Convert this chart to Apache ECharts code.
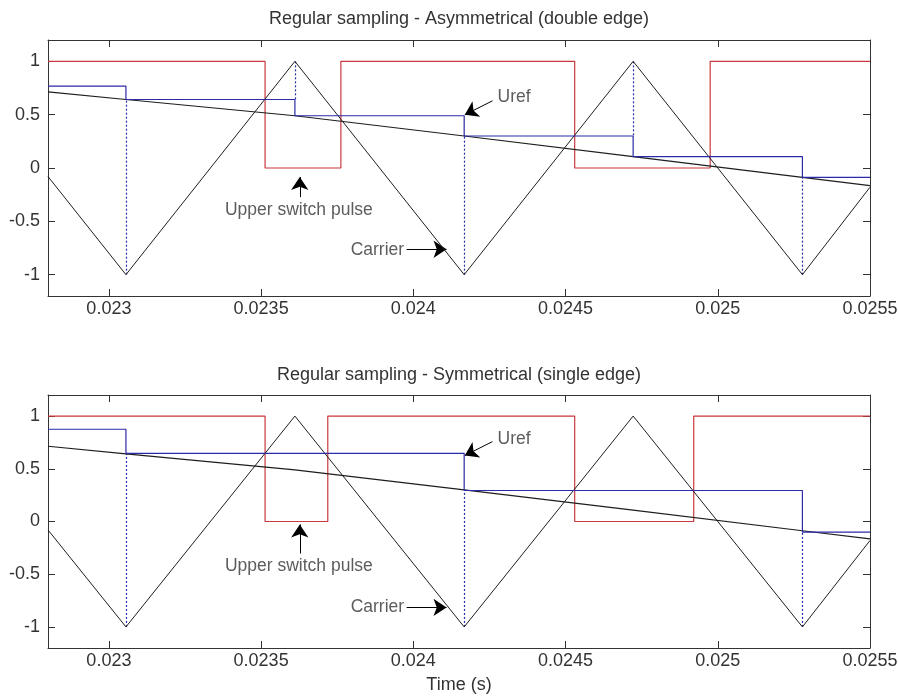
<!DOCTYPE html>
<html>
<head>
<meta charset="utf-8">
<script src="https://cdn.jsdelivr.net/npm/echarts@6/dist/echarts.min.js"></script>
<style>html,body{margin:0;padding:0;background:#fff}#c{width:898px;height:697px}</style>
</head>
<body>
<div id="c"></div>
<script>
// ---------- data ----------
var xTicks = [0.023, 0.0235, 0.024, 0.0245, 0.025, 0.0255];
var yTicks = [-1, -0.5, 0, 0.5, 1];
var titles = ['Regular sampling - Asymmetrical (double edge)', 'Regular sampling - Symmetrical (single edge)'];

// carrier triangle vertices (same in both plots)
var carrier = [[0.0228,-0.08],[0.023056,-1],[0.023611,1],[0.024167,-1],[0.024722,1],[0.025278,-1],[0.0255,-0.18]];
// reference (modulating) wave, read points
var reference = [[0.0228,0.714],[0.023056,0.642],[0.023611,0.49],[0.024167,0.30],[0.024722,0.107],[0.025278,-0.088],[0.0255,-0.165]];

// top: asymmetrical sampled reference (held values)
var urefAsym = [[0.0228,0.767],[0.023056,0.642],[0.023611,0.49],[0.024167,0.30],[0.024722,0.107],[0.025278,-0.088],[0.0255,-0.088]];
var pulseAsym = [[0.0228,1],[0.023513,0],[0.023762,1],[0.02453,0],[0.024975,1],[0.0255,1]];
var dotsAsym = [
  [[0.023056,-1],[0.023056,0.642]],
  [[0.023611,1],[0.023611,0.642]],
  [[0.024167,-1],[0.024167,0.30]],
  [[0.024722,1],[0.024722,0.30]],
  [[0.025278,-1],[0.025278,-0.088]]
];

// bottom: symmetrical sampled reference
var urefSym = [[0.0228,0.875],[0.023056,0.647],[0.024167,0.294],[0.025278,-0.10],[0.0255,-0.10]];
var pulseSym = [[0.0228,1],[0.023513,0],[0.023719,1],[0.02453,0],[0.024921,1],[0.0255,1]];
var dotsSym = [
  [[0.023056,-1],[0.023056,0.647]],
  [[0.024167,-1],[0.024167,0.294]],
  [[0.025278,-1],[0.025278,-0.10]]
];

// annotations (text centre, arrow start -> tip), data coordinates
var notesTop = [
  {text:'Uref', at:[0.024331,0.668], from:[0.02426,0.63], to:[0.024169,0.499]},
  {text:'Upper switch pulse', at:[0.023624,-0.395], from:[0.023627,-0.273], to:[0.023627,-0.085]},
  {text:'Carrier', at:[0.023882,-0.771], from:[0.023978,-0.762], to:[0.024109,-0.762]}
];
var notesBot = [
  {text:'Uref', at:[0.024331,0.784], from:[0.02426,0.758], to:[0.024169,0.626]},
  {text:'Upper switch pulse', at:[0.023624,-0.424], from:[0.023627,-0.303], to:[0.023627,-0.028]},
  {text:'Carrier', at:[0.023882,-0.812], from:[0.023978,-0.815], to:[0.024109,-0.815]}
];

// ---------- styling ----------
var FONT = '"Liberation Sans", Arial, sans-serif';
var TXT = '#333333';
var AX = '#333333';
var RED = '#c8383c';
var BLUE = '#2a2aa6';
var BLACK = '#1e1e1e';
var FS = 18;

function xAxisPair(gi) {
  var base = {type:'value', gridIndex:gi, min:0.0228, max:0.0255, splitLine:{show:false},
    axisLine:{show:true, onZero:false, lineStyle:{color:AX, width:1}},
    axisTick:{show:true, inside:true, length:7, customValues:xTicks, lineStyle:{color:AX}}};
  var bottom = Object.assign({}, base, {position:'bottom',
    axisLabel:{show:true, customValues:xTicks, margin:4, color:TXT, fontSize:FS, fontFamily:FONT,
      hideOverlap:false, formatter:function(v){return String(v);}}});
  var top = Object.assign({}, base, {position:'top', axisLabel:{show:false}});
  return [bottom, top];
}
function yAxisPair(gi) {
  var base = {type:'value', gridIndex:gi, min:-1.2, max:1.2, splitLine:{show:false},
    axisLine:{show:true, onZero:false, lineStyle:{color:AX, width:1}},
    axisTick:{show:true, inside:true, length:7, customValues:yTicks, lineStyle:{color:AX}}};
  var left = Object.assign({}, base, {position:'left',
    axisLabel:{show:true, customValues:yTicks, margin:8, color:TXT, fontSize:FS, fontFamily:FONT,
      formatter:function(v){return String(v);}}});
  var right = Object.assign({}, base, {position:'right', axisLabel:{show:false}});
  return [left, right];
}

function seriesFor(gi, uref, pulse, dots, notes) {
  var xi = gi*2, yi = gi*2;
  var s = [];
  s.push({type:'line', xAxisIndex:xi, yAxisIndex:yi, data:pulse, step:'end', symbol:'none',
    lineStyle:{color:RED, width:1.2}, silent:true, animation:false});
  s.push({type:'lines', coordinateSystem:'cartesian2d', xAxisIndex:xi, yAxisIndex:yi,
    data:dots.map(function(d){return {coords:d};}),
    lineStyle:{color:BLUE, width:1.2, type:[2,2], opacity:1}, symbol:['none','none'], silent:true, animation:false});
  s.push({type:'line', xAxisIndex:xi, yAxisIndex:yi, data:carrier, symbol:'none',
    lineStyle:{color:BLACK, width:1}, silent:true, animation:false});
  s.push({type:'line', xAxisIndex:xi, yAxisIndex:yi, data:reference, symbol:'none',
    lineStyle:{color:BLACK, width:1.2}, silent:true, animation:false});
  s.push({type:'line', xAxisIndex:xi, yAxisIndex:yi, data:uref, step:'end', symbol:'none',
    lineStyle:{color:BLUE, width:1.2}, silent:true, animation:false});
  s.push({type:'lines', coordinateSystem:'cartesian2d', xAxisIndex:xi, yAxisIndex:yi,
    data:notes.map(function(n){return {coords:[n.from, n.to]};}),
    symbol:['none','arrow'], symbolSize:[0,13],
    lineStyle:{color:'#000', width:1, opacity:1}, silent:true, animation:false});
  s.push({type:'scatter', xAxisIndex:xi, yAxisIndex:yi, symbolSize:0,
    data:notes.map(function(n){return {value:n.at, name:n.text};}),
    label:{show:true, position:'inside', formatter:'{b}', color:TXT, fontSize:17.5, fontFamily:FONT},
    silent:true, animation:false});
  return s;
}

var xa = xAxisPair(0).concat(xAxisPair(1));
var ya = yAxisPair(0).concat(yAxisPair(1));

var option = {
  animation:false,
  backgroundColor:'#fff',
  grid:[
    {left:48, top:40, width:822, height:256, outerBoundsMode:'none', containLabel:false},
    {left:48, top:395, width:822, height:253, outerBoundsMode:'none', containLabel:false}
  ],
  xAxis:xa,
  yAxis:ya,
  graphic:[
    {type:'text', x:459, y:19, style:{text:titles[0], fill:TXT, font:FS+'px '+FONT, textAlign:'center', textVerticalAlign:'middle'}},
    {type:'text', x:459, y:375, style:{text:titles[1], fill:TXT, font:FS+'px '+FONT, textAlign:'center', textVerticalAlign:'middle'}},
    {type:'text', x:459, y:685, style:{text:'Time (s)', fill:TXT, font:FS+'px '+FONT, textAlign:'center', textVerticalAlign:'middle'}}
  ],
  series:seriesFor(0, urefAsym, pulseAsym, dotsAsym, notesTop).concat(seriesFor(1, urefSym, pulseSym, dotsSym, notesBot))
};

var chart = echarts.init(document.getElementById('c'), null, {renderer:'canvas'});
chart.setOption(option);
</script>
</body>
</html>
